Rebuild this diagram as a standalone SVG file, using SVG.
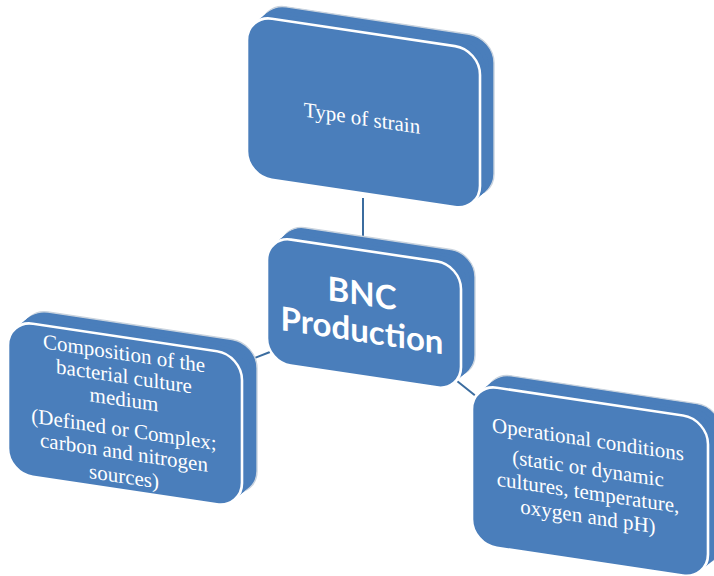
<svg xmlns="http://www.w3.org/2000/svg" width="714" height="576" viewBox="0 0 714 576">
<style>
.bk{fill:#4A7EBB;stroke:#C9D3DE;stroke-width:1.4}
.md{fill:#4A7EBB}
.fr{fill:#4A7EBB;stroke:#FFFFFF;stroke-width:2.6}
.ser{font-family:"Liberation Serif","Times New Roman",serif;font-size:21px;fill:#FFFFFF;text-anchor:middle}
.bold{font-family:Lato,"Liberation Sans",sans-serif;font-weight:bold;font-size:33px;fill:#FFFFFF;text-anchor:middle}
.cn{stroke:#3B6C9F;stroke-width:2;fill:none}
</style>
<rect width="714" height="576" fill="#FFFFFF"/>
<g id="connectors">
<line class="cn" x1="363" y1="198" x2="363" y2="245"/>
<line class="cn" x1="242" y1="363" x2="270" y2="352"/>
<line class="cn" x1="457" y1="381" x2="477" y2="397"/>
</g>
<g id="node-top" transform="translate(247,15) skewY(8.5)">
<rect class="bk" x="14" y="-14" width="233" height="161" rx="25"/>
<rect class="md" x="12" y="-12" width="233" height="161" rx="25"/>
<rect class="md" x="9" y="-9" width="233" height="161" rx="25"/>
<rect class="md" x="6" y="-6" width="233" height="161" rx="25"/>
<rect class="md" x="3" y="-3" width="233" height="161" rx="25"/>
<rect class="fr" x="0" y="0" width="233" height="161" rx="25"/>
<text class="ser" x="115" y="93">Type of strain</text>
</g>
<g id="node-center" transform="translate(267,236) skewY(8.5)">
<rect class="bk" x="14" y="-14" width="194" height="126" rx="24"/>
<rect class="md" x="12" y="-12" width="194" height="126" rx="24"/>
<rect class="md" x="9" y="-9" width="194" height="126" rx="24"/>
<rect class="md" x="6" y="-6" width="194" height="126" rx="24"/>
<rect class="md" x="3" y="-3" width="194" height="126" rx="24"/>
<rect class="fr" x="0" y="0" width="194" height="126" rx="24"/>
<text class="bold" x="95" y="55">BNC</text>
<text class="bold" x="95" y="92">Production</text>
</g>
<g id="node-left" transform="translate(8,320) skewY(8.5)">
<rect class="bk" x="15" y="-14" width="234" height="153" rx="25"/>
<rect class="md" x="12" y="-12" width="234" height="153" rx="25"/>
<rect class="md" x="9" y="-9" width="234" height="153" rx="25"/>
<rect class="md" x="6" y="-6" width="234" height="153" rx="25"/>
<rect class="md" x="3" y="-3" width="234" height="153" rx="25"/>
<rect class="fr" x="0" y="0" width="234" height="153" rx="25"/>
<text class="ser" x="116" y="23">Composition of the</text>
<text class="ser" x="116" y="46">bacterial culture</text>
<text class="ser" x="116" y="69">medium</text>
<text class="ser" x="116" y="99">(Defined or Complex;</text>
<text class="ser" x="116" y="122">carbon and nitrogen</text>
<text class="ser" x="116" y="146">sources)</text>
</g>
<g id="node-right" transform="translate(472,384) skewY(8.5)">
<rect class="bk" x="14" y="-14" width="236" height="160" rx="25"/>
<rect class="md" x="12" y="-12" width="236" height="160" rx="25"/>
<rect class="md" x="9" y="-9" width="236" height="160" rx="25"/>
<rect class="md" x="6" y="-6" width="236" height="160" rx="25"/>
<rect class="md" x="3" y="-3" width="236" height="160" rx="25"/>
<rect class="fr" x="0" y="0" width="236" height="160" rx="25"/>
<text class="ser" x="116" y="45">Operational conditions</text>
<text class="ser" x="116" y="74">(static or dynamic</text>
<text class="ser" x="116" y="98">cultures, temperature,</text>
<text class="ser" x="116" y="122">oxygen and pH)</text>
</g>
</svg>
